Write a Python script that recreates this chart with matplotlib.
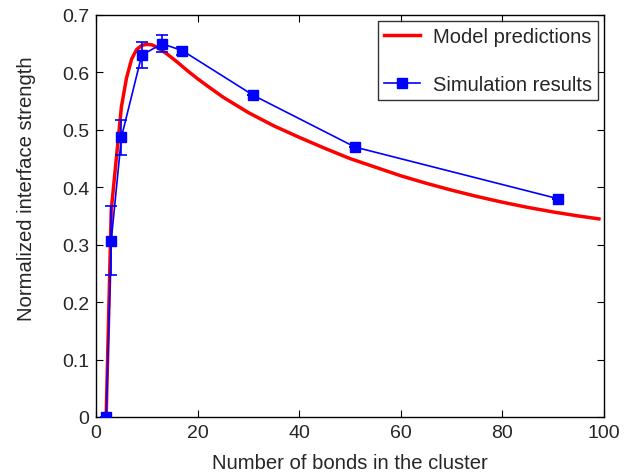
import matplotlib
matplotlib.use("Agg")
import matplotlib.pyplot as plt
from matplotlib.lines import Line2D

plt.rcParams['font.family'] = ['Liberation Sans', 'DejaVu Sans']
TXT = '#262626'

# Model predictions (red curve)
model_n = [2, 3, 4, 5, 6, 7, 8, 9, 10, 11, 12, 13, 14, 16, 18, 20, 22, 25, 30, 35, 40, 45, 50,
           55, 60, 65, 70, 75, 80, 85, 90, 95, 99]
model_s = [0.0, 0.36, 0.45, 0.54, 0.59, 0.623, 0.64, 0.647, 0.649, 0.648, 0.644, 0.638, 0.632,
           0.618, 0.603, 0.589, 0.576, 0.557, 0.53, 0.507, 0.487, 0.468, 0.45,
           0.435, 0.42, 0.407, 0.395, 0.384, 0.374, 0.365, 0.357, 0.350, 0.345]

# Simulation results (blue, with error bars)
sim_n = [2, 3, 5, 9, 13, 17, 31, 51, 91]
sim_s = [0.0, 0.307, 0.487, 0.63, 0.65, 0.638, 0.56, 0.47, 0.38]
sim_err = [0.0, 0.06, 0.03, 0.023, 0.015, 0.007, 0.0, 0.0, 0.0]

xticks = [0, 20, 40, 60, 80, 100]
yticks = [0, 0.1, 0.2, 0.3, 0.4, 0.5, 0.6, 0.7]
ytick_labels = ['0', '0.1', '0.2', '0.3', '0.4', '0.5', '0.6', '0.7']

fig = plt.figure(figsize=(6.34, 4.77), dpi=100)
ax = fig.add_axes([96/634, 1-418/477, (604-96)/634, (418-16)/477])

ax.plot(model_n, model_s, color='#ff0000', lw=2.5, zorder=2)
ax.errorbar(sim_n, sim_s, yerr=sim_err, color='#0000ff', lw=1.2, marker='s', ms=7.5,
            capsize=4, elinewidth=1.2, capthick=1.2, zorder=3)

ax.set_xlim(0, 100)
ax.set_ylim(0, 0.7)
ax.set_xticks(xticks)
ax.set_yticks(yticks)
ax.set_yticklabels(ytick_labels)
ax.tick_params(direction='in', top=True, right=True, labelsize=14, length=5, width=0.8,
               labelcolor=TXT, pad=5)
for s in ax.spines.values():
    s.set_linewidth(1.0)

ax.set_xlabel('Number of bonds in the cluster', fontsize=14.6, color=TXT, labelpad=8.5)
ax.set_ylabel('Normalized interface strength', fontsize=14.6, color=TXT)
ax.yaxis.set_label_coords(-0.118, 0.57)

handles = [Line2D([], [], color='#ff0000', lw=2.5),
           Line2D([], [], color='#0000ff', lw=1.2, marker='s', ms=7.5)]
leg = ax.legend(handles, ['Model predictions', 'Simulation results'], loc='upper right',
                fontsize=14.5, labelspacing=1.45, frameon=True, fancybox=False,
                edgecolor='black', borderpad=0.3, handlelength=1.75, handletextpad=0.65,
                borderaxespad=0.3)
leg.get_frame().set_linewidth(1.0)
for t in leg.get_texts():
    t.set_color(TXT)

fig.savefig('out.png', dpi=100)
